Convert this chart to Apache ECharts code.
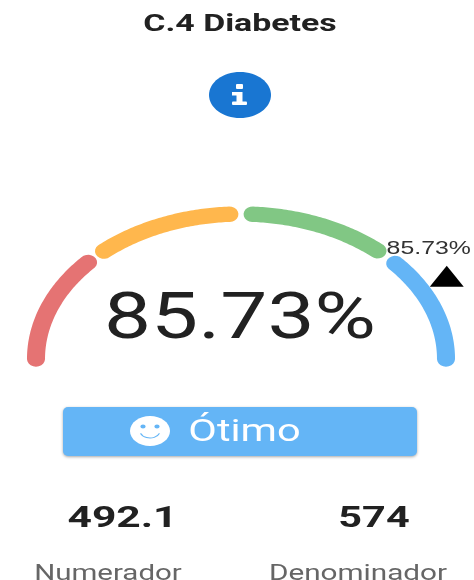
<!DOCTYPE html>
<html><head><meta charset="utf-8">
<style>html,body{margin:0;padding:0;background:#fff;overflow:hidden}#c{width:474px;height:580px;filter:blur(0.45px)}</style>
<script src="https://cdn.jsdelivr.net/npm/echarts@6/dist/echarts.min.js"></script>
</head><body><div id="c"></div>
<script>
const titleText = 'C.4 Diabetes';
const segmentStarts = [0, 26.7, 51.8, 77.1];
const segmentEnds = [23.2, 48.2, 73.2, 100];
const segmentColors = ['#e57373', '#ffb74d', '#81c784', '#64b5f6'];
const gaugeValue = 85.73;
const gaugeLabel = '85.73%';
const statusText = 'Ótimo';
const numeratorValue = '492.1';
const denominatorValue = '574';
const numeratorName = 'Numerador';
const denominatorName = 'Denominador';

const FONT = 'Roboto';
const HALF_X = 0.044, HALF_Y = 0.053;
function angle(v) { return Math.PI * (1 - v / 100); }
function unit(v) { const a = angle(v); return [Math.cos(a), Math.sin(a)]; }
function band(a, side) { return [Math.cos(a) * (1 + side * HALF_X), Math.sin(a) * (1 + side * HALF_Y)]; }
function capPoint(a, dir, t) {
  const nx = Math.cos(a) * Math.cos(t) + dir * Math.sin(a) * Math.sin(t);
  const ny = Math.sin(a) * Math.cos(t) - dir * Math.cos(a) * Math.sin(t);
  return [Math.cos(a) + nx * HALF_X, Math.sin(a) + ny * HALF_Y];
}
function txt(text, x, y, size, weight, fill, sx) {
  return {
    type: 'text', x, y, scaleX: sx, silent: true,
    style: { text, fill, textAlign: 'center', textVerticalAlign: 'middle',
      font: weight + ' ' + size + 'px ' + FONT }
  };
}
const chart = echarts.init(document.getElementById('c'));
chart.setOption({
  animation: false,
  backgroundColor: '#fff',
  grid: { left: 36, top: 214, width: 410, height: 145 },
  xAxis: { type: 'value', min: -1, max: 1, show: false },
  yAxis: { type: 'value', min: 0, max: 1, show: false },
  series: [
    {
      type: 'custom', clip: false, silent: true,
      data: segmentStarts.map((s, i) => [s, segmentEnds[i], i]),
      renderItem(params, api) {
        const s = api.value(0), e = api.value(1), i = api.value(2);
        const N = 60, C = 10, pts = [];
        for (let k = 0; k <= N; k++) pts.push(api.coord(band(angle(s + (e - s) * k / N), 1)));
        for (let k = 1; k < C; k++) pts.push(api.coord(capPoint(angle(e), 1, Math.PI * k / C)));
        for (let k = N; k >= 0; k--) pts.push(api.coord(band(angle(s + (e - s) * k / N), -1)));
        for (let k = 1; k < C; k++) pts.push(api.coord(capPoint(angle(s), -1, Math.PI - Math.PI * k / C)));
        return { type: 'polygon', shape: { points: pts }, style: { fill: segmentColors[i] } };
      }
    },
    {
      type: 'custom', clip: false, silent: true,
      data: [[gaugeValue]],
      renderItem(params, api) {
        const p = api.coord(unit(api.value(0)));
        const cx = p[0] + 21, by = p[1] - 9.5;
        return {
          type: 'group',
          children: [
            { type: 'polygon', shape: { points: [[cx - 17, by], [cx + 17, by], [cx, by - 21]] }, style: { fill: '#000' } },
            { type: 'text', x: p[0] + 3, y: p[1] - 47.5, scaleX: 1.38,
              style: { text: gaugeLabel, fill: '#333', textAlign: 'center', textVerticalAlign: 'middle', font: '18px "Liberation Sans"' } }
          ]
        };
      }
    }
  ],
  graphic: { elements: [
    txt(titleText, 240, 25, 24, 'bold', '#212121', 1.41),
    { type: 'ellipse', shape: { cx: 240, cy: 95, rx: 31, ry: 23 }, style: { fill: '#1976d2' } },
    { type: 'rect', shape: { x: 236, y: 84, width: 7, height: 5, r: 1 }, style: { fill: '#fff' } },
    { type: 'rect', shape: { x: 236.5, y: 92, width: 6, height: 13 }, style: { fill: '#fff' } },
    { type: 'rect', shape: { x: 232, y: 92, width: 8, height: 3.5 }, style: { fill: '#fff' } },
    { type: 'rect', shape: { x: 232, y: 101.5, width: 15, height: 3.5, r: 1 }, style: { fill: '#fff' } },
    txt(gaugeLabel, 240, 322, 64, 'normal', '#212121', 1.31),
    { type: 'rect', shape: { x: 63, y: 407, width: 354, height: 49, r: 5 },
      style: { fill: '#64b5f6', shadowBlur: 3, shadowColor: 'rgba(0,0,0,0.35)', shadowOffsetY: 1 } },
    { type: 'ellipse', shape: { cx: 150, cy: 431, rx: 20, ry: 15 }, style: { fill: '#fff' } },
    { type: 'ellipse', shape: { cx: 143, cy: 426.5, rx: 2.6, ry: 2 }, style: { fill: '#64b5f6' } },
    { type: 'ellipse', shape: { cx: 157, cy: 426.5, rx: 2.6, ry: 2 }, style: { fill: '#64b5f6' } },
    { type: 'arc', shape: { cx: 150, cy: 431, r: 10, startAngle: 0.35, endAngle: Math.PI - 0.35 }, scaleY: 0.7, originX: 150, originY: 431,
      style: { stroke: '#64b5f6', lineWidth: 1.4, fill: null } },
    txt(statusText, 244.5, 433, 31, 'normal', '#fff', 1.34),
    txt(numeratorValue, 122.5, 519, 30, 'bold', '#212121', 1.42),
    txt(denominatorValue, 374, 519, 30, 'bold', '#212121', 1.38),
    txt(numeratorName, 108, 574, 22, 'normal', '#666', 1.34),
    txt(denominatorName, 358, 574, 22, 'normal', '#666', 1.35)
  ] }
});
</script></body></html>
